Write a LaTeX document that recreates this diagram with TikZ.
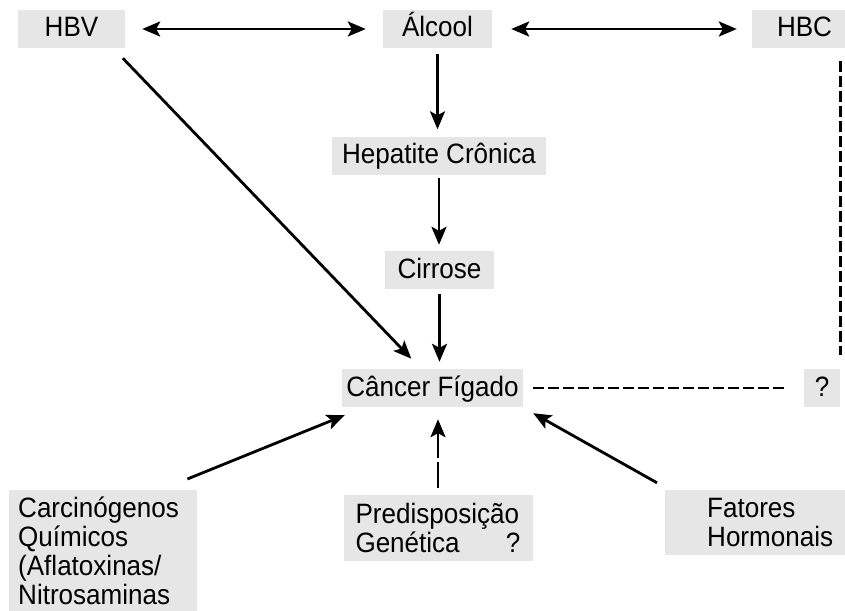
\documentclass[tikz,border=0pt]{standalone}
\usepackage{fontspec}
\setmainfont{Liberation Sans}[FakeStretch=0.93]
\usetikzlibrary{positioning, arrows.meta, calc}
\definecolor{boxGray}{HTML}{E6E6E6}

\begin{document}
\begin{tikzpicture}[x=1pt, y=-1pt,
  box/.style={fill=boxGray, inner sep=0pt, minimum height=38pt,
              text height=20pt, text depth=4pt, font=\fontsize{28}{29}\selectfont},
  tallbox/.style={fill=boxGray, align=left, font=\fontsize{28}{29}\selectfont},
  arr/.style={-{Stealth[length=18pt, width=15pt, inset=4pt]}, line width=2.8pt},
  both/.style={{Stealth[length=18pt, width=15pt, inset=4pt]}-{Stealth[length=18pt, width=15pt, inset=4pt]},
               line width=2.8pt},
  dashline/.style={line width=2.8pt, dash pattern=on 11pt off 4pt},
]
  \useasboundingbox (0,0) rectangle (845,610);

  \node[box, minimum width=107pt] (hbv) at (71.5,29) {HBV};
  \node[box, minimum width=109pt] (alcool) at (437.5,29) {Álcool};
  \node[box, minimum width=105pt] (hbc) at (804.5,29) {HBC};
  \node[box, minimum width=214pt] (hepatite) at (439,155.5) {Hepatite Crônica};
  \node[box, minimum width=109pt] (cirrose) at (439.5,270) {Cirrose};
  \node[box, minimum width=181pt] (cancer) at (432.5,388) {Câncer Fígado};
  \node[box, minimum width=36pt] (quest) at (822,388) {?};

  \node[tallbox, anchor=north west, inner xsep=9pt, inner ysep=7pt, text width=170pt]
    (carcino) at (9,490) {Carcinógenos\\Químicos\\(Aflatoxinas/\\Nitrosaminas};
  \node[tallbox, inner xsep=12pt, text width=165pt, minimum height=66pt]
    (predisp) at (438,528) {Predisposição\\Genética\hfill ?};
  \node[tallbox, anchor=west, inner xsep=42pt, minimum height=65pt]
    (fatores) at (665,522.5) {Fatores\\Hormonais};

  \draw[both, shorten <=17pt, shorten >=17pt] (hbv) -- (alcool);
  \draw[both, shorten <=19pt, shorten >=15pt] (alcool) -- (hbc);
  \draw[arr, shorten <=6pt, shorten >=7pt] (alcool.south) -- (alcool.south |- hepatite.north);
  \draw[arr, shorten <=3pt, shorten >=6pt] (hepatite.south) -- (hepatite.south |- cirrose.north);
  \draw[arr, shorten <=5pt, shorten >=7pt] (cirrose.south) -- (cirrose.south |- cancer.north);
  \draw[arr, shorten <=14pt, shorten >=14pt] ($(hbv.south east)+(-12,0)$) -- ($(cancer.north)+(-11.5,0)$);
  \draw[arr] ($(carcino.north east)+(-10,-11)$) -- ($(cancer.south west)+(3,8)$);
  \draw[arr] ($(fatores.north west)+(-8,-7)$) -- ($(cancer.south east)+(10,6)$);
  \draw[arr, dash pattern=on 26pt off 4pt, shorten <=7pt, shorten >=12pt]
    (predisp.north) -- (predisp.north |- cancer.south);
  \draw[dashline, shorten <=10pt, shorten >=20pt] (cancer.east) -- (quest.west);
  \draw[dashline, shorten <=13pt, shorten >=14pt] (hbc.south -| quest.north east) -- (quest.north east);
\end{tikzpicture}
\end{document}
